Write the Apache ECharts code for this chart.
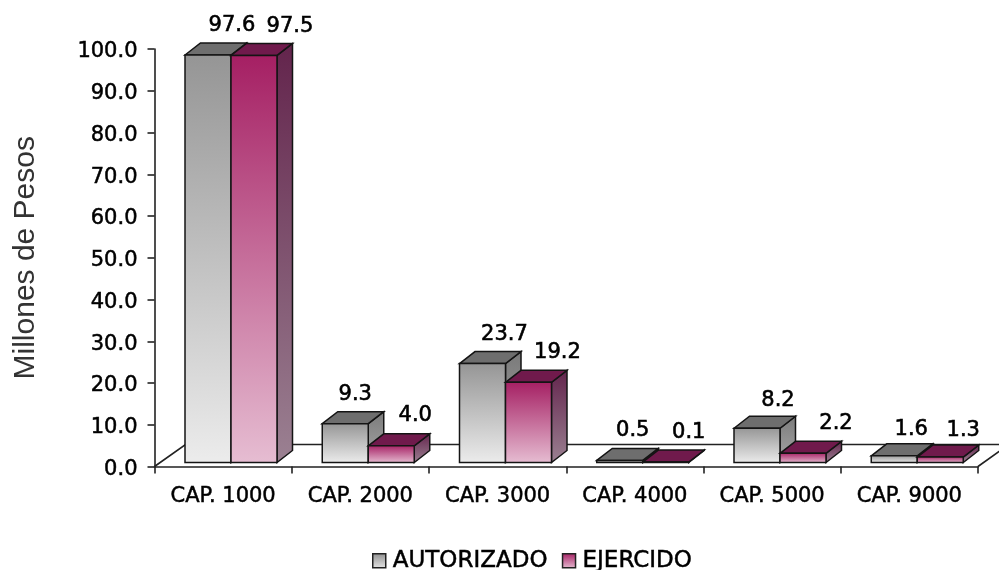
<!DOCTYPE html>
<html>
<head>
<meta charset="utf-8">
<style>
html,body{margin:0;padding:0;background:#fff}
#chart{width:999px;height:570px;filter:blur(0.45px)}
</style>
<script src="https://cdn.jsdelivr.net/npm/echarts@6/dist/echarts.min.js"></script>
</head>
<body>
<div id="chart"></div>
<script>
const categories=['CAP. 1000','CAP. 2000','CAP. 3000','CAP. 4000','CAP. 5000','CAP. 9000'];
const autorizado=[97.6,9.3,23.7,0.5,8.2,1.6];
const ejercido=[97.5,4.0,19.2,0.1,2.2,1.3];
// manual nudges of the value labels, the original chart has them moved by hand
const shiftAutorizado=[24,10,22,13,21,17];
const shiftEjercido=[36,24,29,23,33,23];
const riseAutorizado=[17,17,17,18,16,14];
const riseEjercido=[17,18,18,18,18,15];

const fontName='"DejaVu Sans", sans-serif';
const nameFont='"Liberation Sans", Arial, sans-serif';
const barWidth=46;
const barStart=30.5;
const depthX=15.5;
const depthY=12;
const floorLift=4;
const floorX=31;
const floorY=22;

const fade=(a,b)=>new echarts.graphic.LinearGradient(0,0,0,1,[{offset:0,color:a},{offset:1,color:b}]);
const frontA=()=>fade('#959595','#ececec');
const frontB=()=>fade('#a51f63','#e6bdd2');

const barSeries=(name,values,slot,front,side,top,shifts,rises)=>({
    name:name,
    type:'custom',
    data:values.map((v,i)=>[i,v]),
    encode:{x:0,y:1},
    itemStyle:{color:front()},
    z:3+slot,
    renderItem:function(params,api){
        const i=api.value(0);
        const band=api.size([1,0])[0];
        const p=api.coord([i,api.value(1)]);
        const base=api.coord([i,0]);
        const x0=p[0]-band/2+barStart+slot*barWidth;
        const x1=x0+barWidth;
        const yTop=p[1]-floorLift;
        const yBase=base[1]-floorLift;
        const edge={stroke:'#141414',lineWidth:1.5};
        return {
            type:'group',
            children:[
                {type:'polygon',shape:{points:[[x1,yTop],[x1+depthX,yTop-depthY],[x1+depthX,yBase-depthY],[x1,yBase]]},style:Object.assign({fill:side()},edge)},
                {type:'polygon',shape:{points:[[x0,yTop],[x0+depthX,yTop-depthY],[x1+depthX,yTop-depthY],[x1,yTop]]},style:Object.assign({fill:top},edge)},
                {type:'rect',shape:{x:x0,y:yTop,width:barWidth,height:yBase-yTop},style:Object.assign({fill:front()},edge)},
                {type:'text',style:{
                    text:api.value(1).toFixed(1),
                    x:(x0+x1)/2+shifts[i],
                    y:yTop-depthY-rises[i],
                    align:'center',
                    verticalAlign:'middle',
                    fill:'#000',
                    font:'21px '+fontName,
                    stroke:'#000',
                    lineWidth:0.6
                }}
            ]
        };
    }
});

var myChart=echarts.init(document.getElementById('chart'),null,{renderer:'canvas'});
var option={
    animation:false,
    backgroundColor:'#fff',
    grid:{left:154.5,top:49,width:823.5,height:417.5},
    legend:{
        left:372,
        top:549,
        padding:0,
        itemWidth:13,
        itemHeight:14,
        itemGap:14,
        icon:'rect',
        textStyle:{fontFamily:fontName,fontSize:23,color:'#000',textBorderColor:'#000',textBorderWidth:0.5,padding:[0,0,0,2]},
        data:[
            {name:'AUTORIZADO',itemStyle:{color:fade('#8e8e8e','#e6e6e6'),borderColor:'#222',borderWidth:1.5}},
            {name:'EJERCIDO',itemStyle:{color:fade('#a51f63','#e6bdd2'),borderColor:'#222',borderWidth:1.5}}
        ]
    },
    xAxis:{
        type:'category',
        data:categories,
        axisLine:{lineStyle:{color:'#222',width:1.6}},
        axisTick:{show:true,alignWithLabel:false,length:7,lineStyle:{color:'#222',width:1.6}},
        axisLabel:{interval:0,margin:20,color:'#000',fontFamily:fontName,fontSize:21,textBorderColor:'#000',textBorderWidth:0.5}
    },
    yAxis:{
        type:'value',
        min:0,
        max:100,
        interval:10,
        name:'Millones de Pesos',
        nameLocation:'middle',
        nameGap:114,
        nameTextStyle:{fontFamily:nameFont,fontSize:30,color:'#333'},
        axisLine:{show:true,lineStyle:{color:'#222',width:1.6}},
        axisTick:{show:true,length:7,lineStyle:{color:'#222',width:1.6}},
        splitLine:{show:false},
        axisLabel:{margin:17,verticalAlign:'top',lineHeight:6,color:'#000',fontFamily:fontName,fontSize:21,textBorderColor:'#000',textBorderWidth:0.5,formatter:v=>v.toFixed(1)}
    },
    series:[
        {
            // floor of the 3D box, sits under the bars
            name:'floor',
            type:'custom',
            data:[[0,0]],
            z:1,
            silent:true,
            renderItem:function(params,api){
                const a=api.coord([0,0]);
                const band=api.size([1,0])[0];
                const left=a[0]-band/2;
                const right=left+band*categories.length;
                const y=a[1];
                return {type:'polyline',shape:{points:[[left,y],[left+floorX,y-floorY],[right+floorX,y-floorY],[right,y]]},style:{fill:null,stroke:'#222',lineWidth:1.6}};
            }
        },
        barSeries('AUTORIZADO',autorizado,0,frontA,()=>fade('#7a7a7a','#a8a8a8'),'#6e6e6e',shiftAutorizado,riseAutorizado),
        barSeries('EJERCIDO',ejercido,1,frontB,()=>fade('#63244c','#9b8192'),'#701a4c',shiftEjercido,riseEjercido)
    ]
};
myChart.setOption(option);
</script>
</body>
</html>
